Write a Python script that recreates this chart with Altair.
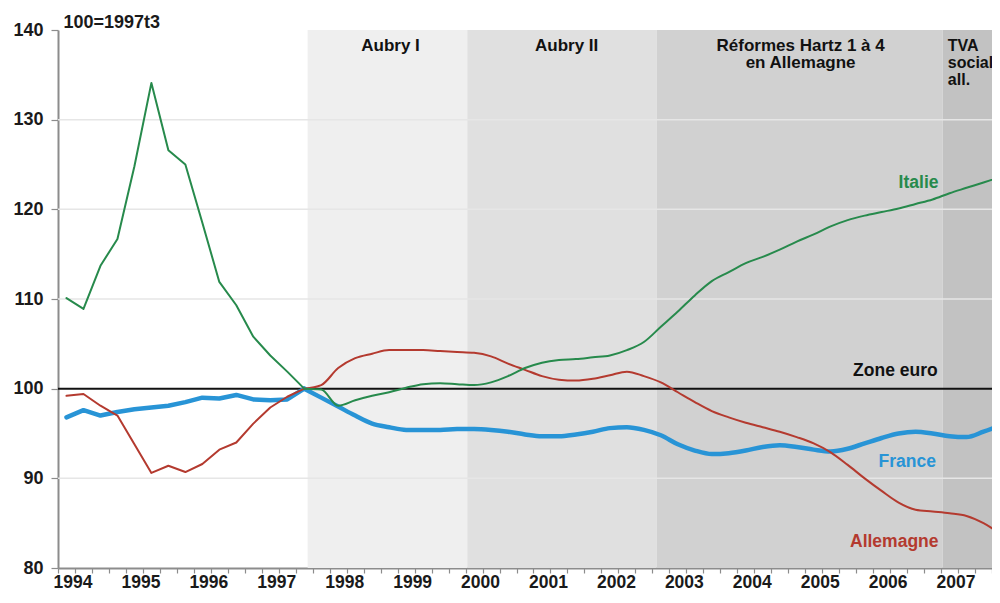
import altair as alt
import pandas as pd

# ---------------- data ----------------
YEARS = ["1994", "1995", "1996", "1997", "1998", "1999", "2000",
         "2001", "2002", "2003", "2004", "2005", "2006", "2007"]
Y_TICKS = [80, 90, 100, 110, 120, 130, 140]
GRID_LEVELS = [90, 110, 120, 130]
ZONE_EURO = [100]

# quarterly index, 100 = 1997t3 ; first value = 1994t1
FRANCE = [96.8, 97.6, 97.0, 97.4, 97.7, 97.9, 98.1, 98.5, 99.0, 98.9, 99.3, 98.8, 98.7, 98.8, 100.0,
          99.0, 98.0, 97.0, 96.1, 95.7, 95.4, 95.4, 95.4, 95.5, 95.5, 95.4, 95.2, 94.9, 94.7, 94.7,
          94.9, 95.2, 95.6, 95.7, 95.4,
          94.8, 93.8, 93.1, 92.7, 92.8, 93.1, 93.5, 93.7, 93.5, 93.2, 93.0, 93.3, 93.9, 94.5, 95.0,
          95.2, 95.0, 94.7, 94.6, 95.2, 95.9]
ALLEMAGNE = [99.2, 99.4, 98.1, 97.0, 93.8, 90.6, 91.4, 90.7, 91.6, 93.2, 94.0, 96.1, 97.9, 99.1, 100.0,
             100.4, 102.3, 103.4, 103.9, 104.3, 104.3, 104.3, 104.2, 104.1, 104.0, 103.6, 102.8, 102.1,
             101.4, 101.0, 100.9, 101.1, 101.5, 101.9, 101.4,
             100.7, 99.6, 98.5, 97.5, 96.8, 96.2, 95.7, 95.2, 94.6, 93.9, 92.9, 91.5, 90.0, 88.6, 87.3,
             86.5, 86.3, 86.1, 85.8, 85.0, 83.8]
ITALIE = [110.1, 108.9, 113.7, 116.7, 124.8, 134.1, 126.6, 125.0, 118.5, 111.9, 109.3, 105.8, 103.7, 101.9, 100.0,
          99.9, 98.1, 98.7, 99.2, 99.6, 100.1, 100.5, 100.6, 100.5, 100.4, 100.7, 101.4, 102.3, 102.9, 103.2,
          103.3, 103.5, 103.7, 104.3, 105.2,
          106.9, 108.6, 110.4, 112.0, 113.0, 114.0, 114.7, 115.5, 116.4, 117.2, 118.1, 118.8, 119.3, 119.7, 120.1,
          120.6, 121.1, 121.8, 122.4, 123.0, 123.6]
SERIES = ["France", "Allemagne", "Italie"]
BASE_Q = 14  # 1997t3

PERIODS = ["Aubry I", "Aubry II", "Hartz", "TVA"]
PERIOD_START = [14.2, 23.6, 34.75, 51.6]
PERIOD_END = [23.6, 34.75, 51.6, 54.5]

PERIOD_LABELS = [["Aubry I"], ["Aubry II"], ["Réformes  Hartz 1 à 4", "en Allemagne"]]
PERIOD_LABEL_Q = [19.08, 29.45, 43.23]
TVA_LABEL = [["TVA", "sociale", "all."]]
TVA_LABEL_Q = [51.9]
LABEL_TOP_V = 139.15

LINE_LABELS = ["Italie", "Zone euro", "France", "Allemagne"]
LINE_LABEL_Q = [51.35, 51.3, 51.2, 51.35]
LINE_LABEL_V = [122.9, 102.0, 91.8, 82.9]

# ---------------- styles ----------------
FONT = "Liberation Sans"
COLOR_DOMAIN = ["France", "Allemagne", "Italie", "Zone euro"]
COLOR_RANGE = ["#2894d6", "#b43a2f", "#278a4c", "#111111"]
WIDTHS = {"France": 4.5, "Allemagne": 2.0, "Italie": 2.0}
PERIOD_FILL = ["#efefef", "#e0e0e0", "#d1d1d1", "#c2c2c2"]
AXIS_GREY = "#8c8c8c"

W, H = 934, 538

# ---------------- tables ----------------
rows = []
for name, vals in zip(SERIES, [FRANCE, ALLEMAGNE, ITALIE]):
    for i, v in enumerate(vals):
        if i <= BASE_Q:
            rows.append({"q": i, "v": v, "s": name, "part": "early"})
        if i >= BASE_Q:
            rows.append({"q": i, "v": v, "s": name, "part": "late"})
lines_df = pd.DataFrame(rows)

periods_df = pd.DataFrame({"p": PERIODS, "q": PERIOD_START, "q1": PERIOD_END,
                           "v": [Y_TICKS[-1]] * 4, "bot": [Y_TICKS[0]] * 4})
grid_df = pd.DataFrame({"v": GRID_LEVELS})
zone_df = pd.DataFrame({"v": ZONE_EURO})
plab_df = pd.DataFrame({"t": PERIOD_LABELS, "q": PERIOD_LABEL_Q, "v": [LABEL_TOP_V] * 3})
tva_df = pd.DataFrame({"t": TVA_LABEL, "q": TVA_LABEL_Q, "v": [LABEL_TOP_V]})
llab_df = pd.DataFrame({"t": LINE_LABELS, "q": LINE_LABEL_Q, "v": LINE_LABEL_V,
                        "s": ["Italie", "Zone euro", "France", "Allemagne"]})
# year labels sit a little right of each year's first quarter boundary
years_df = pd.DataFrame({"t": YEARS, "q": [4 * i - 0.5 for i in range(len(YEARS))],
                         "v": [Y_TICKS[0]] * len(YEARS)})

x_scale = alt.Scale(domain=[-0.5, 54.5], nice=False, zero=False)
y_scale = alt.Scale(domain=[Y_TICKS[0], Y_TICKS[-1]], nice=False, zero=False)
color_scale = alt.Scale(domain=COLOR_DOMAIN, range=COLOR_RANGE)

tick_vals = [k - 0.5 for k in range(4 * len(YEARS))]

x_axis = alt.Axis(values=tick_vals, labels=False, grid=False,
                  domainColor=AXIS_GREY, domainWidth=2, tickColor=AXIS_GREY,
                  tickSize=5, tickWidth=1.2, title=None)
y_axis = alt.Axis(values=Y_TICKS, grid=False, domainColor=AXIS_GREY, domainWidth=2,
                  tickColor=AXIS_GREY, tickSize=7, tickWidth=1.2, labelFont=FONT,
                  labelFontSize=18, labelFontWeight="bold", labelColor="#1a1a1a",
                  labelPadding=8, title="100=1997t3", titleAngle=0, titleAlign="left",
                  titleBaseline="middle", titleX=5, titleY=-8, titleFont=FONT,
                  titleFontSize=18, titleFontWeight="bold", titleColor="#1a1a1a")

X = alt.X("q:Q", scale=x_scale, axis=x_axis)
Y = alt.Y("v:Q", scale=y_scale, axis=y_axis)

rects = alt.Chart(periods_df).mark_rect(clip=True).encode(
    x=X, x2="q1:Q", y=Y, y2="bot:Q",
    fill=alt.Fill("p:N", scale=alt.Scale(domain=PERIODS, range=PERIOD_FILL), legend=None),
)

grid = alt.Chart(grid_df).mark_rule(color="#e6e6e6", strokeWidth=1.5).encode(y=Y)

zone = alt.Chart(zone_df).mark_rule(color="#111111", strokeWidth=2).encode(y=Y)

line_layers = []
for name in SERIES:
    for part, interp in [("early", "linear"), ("late", "monotone")]:
        line_layers.append(
            alt.Chart(lines_df).transform_filter(
                (alt.datum.s == name) & (alt.datum.part == part)
            ).mark_line(interpolate=interp, strokeWidth=WIDTHS[name], clip=True,
                        strokeJoin="round", strokeCap="round").encode(
                x=X, y=Y,
                color=alt.Color("s:N", scale=color_scale, legend=None),
            )
        )

plabels = alt.Chart(plab_df).mark_text(font=FONT, fontSize=17, fontWeight="bold",
                                       color="#111111", align="center",
                                       baseline="top", lineHeight=17).encode(
    x=X, y=Y, text="t",
)

tvalabel = alt.Chart(tva_df).mark_text(font=FONT, fontSize=16, fontWeight="bold",
                                       color="#111111", align="left",
                                       baseline="top", lineHeight=17).encode(
    x=X, y=Y, text="t",
)

llabels = alt.Chart(llab_df).mark_text(font=FONT, fontSize=17.5, fontWeight="bold",
                                       align="right", baseline="middle").encode(
    x=X, y=Y, text="t:N",
    color=alt.Color("s:N", scale=color_scale, legend=None),
)

year_labels = alt.Chart(years_df).mark_text(font=FONT, fontSize=17.5, fontWeight="bold",
                                            color="#1a1a1a", align="center",
                                            baseline="top", dx=15, dy=6).encode(
    x=X, y=Y, text="t:N",
)

chart = alt.layer(rects, grid, zone, *line_layers, plabels, tvalabel, llabels,
                  year_labels).properties(
    width=W, height=H,
    autosize=alt.AutoSizeParams(type="none"),
    padding={"left": 50, "top": 22, "right": 0, "bottom": 27},
    background="#ffffff",
).configure_view(stroke=None)

chart.save("out.html", embed_options={"renderer": "svg", "actions": False})
